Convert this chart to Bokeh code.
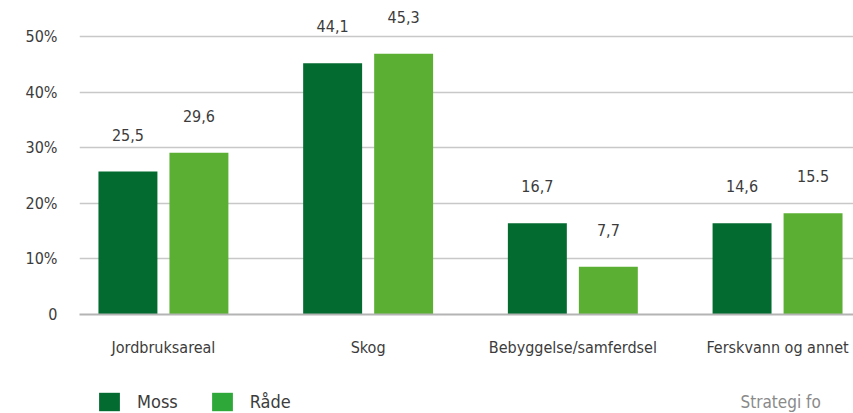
from bokeh.plotting import figure
from bokeh.layouts import column
from bokeh.models import ColumnDataSource, FixedTicker, Legend, LegendItem, Label, Range1d
from bokeh.core.properties import value
from bokeh.embed import file_html
from bokeh.resources import INLINE

categories = ["Jordbruksareal", "Skog", "Bebyggelse/samferdsel", "Ferskvann og annet"]
series_names = ["Moss", "Råde"]
moss_values = [25.7, 45.2, 16.4, 16.4]
rade_values = [29.1, 46.9, 8.6, 18.2]
moss_labels = ["25,5", "44,1", "16,7", "14,6"]
rade_labels = ["29,6", "45,3", "7,7", "15.5"]
y_ticks = [0, 10, 20, 30, 40, 50]
y_tick_labels = ["0", "10%", "20%", "30%", "40%", "50%"]
footer_text = "Strategi fo"

FONT = "DejaVu Sans Condensed"
MOSS_COLOR = "#036a30"
RADE_COLOR = "#5bb033"
RADE_LEGEND_COLOR = "#2fa83a"
TEXT_COLOR = "#3c3c3c"

idx = list(range(len(categories)))
off = 0.1734
bw = 0.288

p = figure(width=853, height=372, output_backend="svg", toolbar_location=None,
           x_range=Range1d(-0.410, 3.371), y_range=Range1d(0, 56.47),
           min_border_left=79, min_border_right=0, min_border_top=0, min_border_bottom=58)
p.outline_line_color = None
p.background_fill_color = "white"
p.border_fill_color = "white"

src_m = ColumnDataSource(dict(x=[i - off for i in idx], top=moss_values, lab=moss_labels))
src_r = ColumnDataSource(dict(x=[i + off for i in idx], top=rade_values, lab=rade_labels))

p.vbar(x="x", top="top", width=bw, source=src_m, fill_color=MOSS_COLOR, line_color=None)
p.vbar(x="x", top="top", width=bw, source=src_r, fill_color=RADE_COLOR, line_color=None)

for src in (src_m, src_r):
    p.text(x="x", y="top", text="lab", source=src, y_offset=-37,
           text_align="center", text_baseline="alphabetic",
           text_font=value(FONT), text_font_size="16px", text_color=TEXT_COLOR)

# axes
p.xaxis.ticker = FixedTicker(ticks=idx)
p.xaxis.major_label_overrides = {i: c for i, c in zip(idx, categories)}
p.xaxis.major_label_text_font = FONT
p.xaxis.major_label_text_font_size = "16px"
p.xaxis.major_label_text_color = TEXT_COLOR
p.xaxis.major_label_standoff = 17
p.xaxis.major_tick_line_color = None
p.xaxis.minor_tick_line_color = None
p.xaxis.axis_line_color = "#b4b4b4"
p.xaxis.axis_line_width = 2

p.yaxis.ticker = FixedTicker(ticks=y_ticks)
p.yaxis.major_label_overrides = {t: l for t, l in zip(y_ticks, y_tick_labels)}
p.yaxis.major_label_text_font = FONT
p.yaxis.major_label_text_font_size = "16px"
p.yaxis.major_label_text_color = TEXT_COLOR
p.yaxis.major_label_text_baseline = "alphabetic"
p.yaxis.major_label_standoff = 16
p.yaxis.major_tick_line_color = None
p.yaxis.minor_tick_line_color = None
p.yaxis.axis_line_color = None

p.xgrid.grid_line_color = None
p.ygrid.ticker = FixedTicker(ticks=y_ticks[1:])
p.ygrid.grid_line_color = "#c8c8c8"
p.ygrid.grid_line_width = 1.5

# legend strip below the chart (its frame is aligned with the chart's frame)
p2 = figure(width=853, height=41, output_backend="svg", toolbar_location=None,
            x_range=Range1d(0, 774), y_range=Range1d(0, 41),
            x_axis_type=None, y_axis_type=None,
            min_border_left=79, min_border_right=0, min_border_top=0, min_border_bottom=0)
p2.outline_line_color = None
p2.grid.visible = False
legend_src = ColumnDataSource(dict(x=[0], top=[0]))
lm = p2.vbar(x="x", top="top", width=1, source=legend_src, fill_color=MOSS_COLOR, line_color=None)
lr = p2.vbar(x="x", top="top", width=1, source=legend_src, fill_color=RADE_LEGEND_COLOR, line_color=None)

legend = Legend(items=[LegendItem(label=series_names[0], renderers=[lm]),
                       LegendItem(label=series_names[1], renderers=[lr])],
                location=(17, 0), orientation="horizontal",
                glyph_width=26, glyph_height=23, label_text_font=FONT,
                label_text_font_size="18px", label_text_color=TEXT_COLOR,
                label_standoff=15, spacing=31, padding=0, margin=0,
                border_line_color=None, background_fill_alpha=0)
p2.add_layout(legend, "center")

footer = Label(x=661, y=22, x_units="screen", y_units="screen", text=footer_text,
               text_font=FONT, text_font_size="17px", text_color="#8a8a8a",
               text_baseline="top", text_align="left")
p2.add_layout(footer)

layout = column(p, p2, spacing=0)
open("out.html", "w").write(file_html(layout, INLINE))
